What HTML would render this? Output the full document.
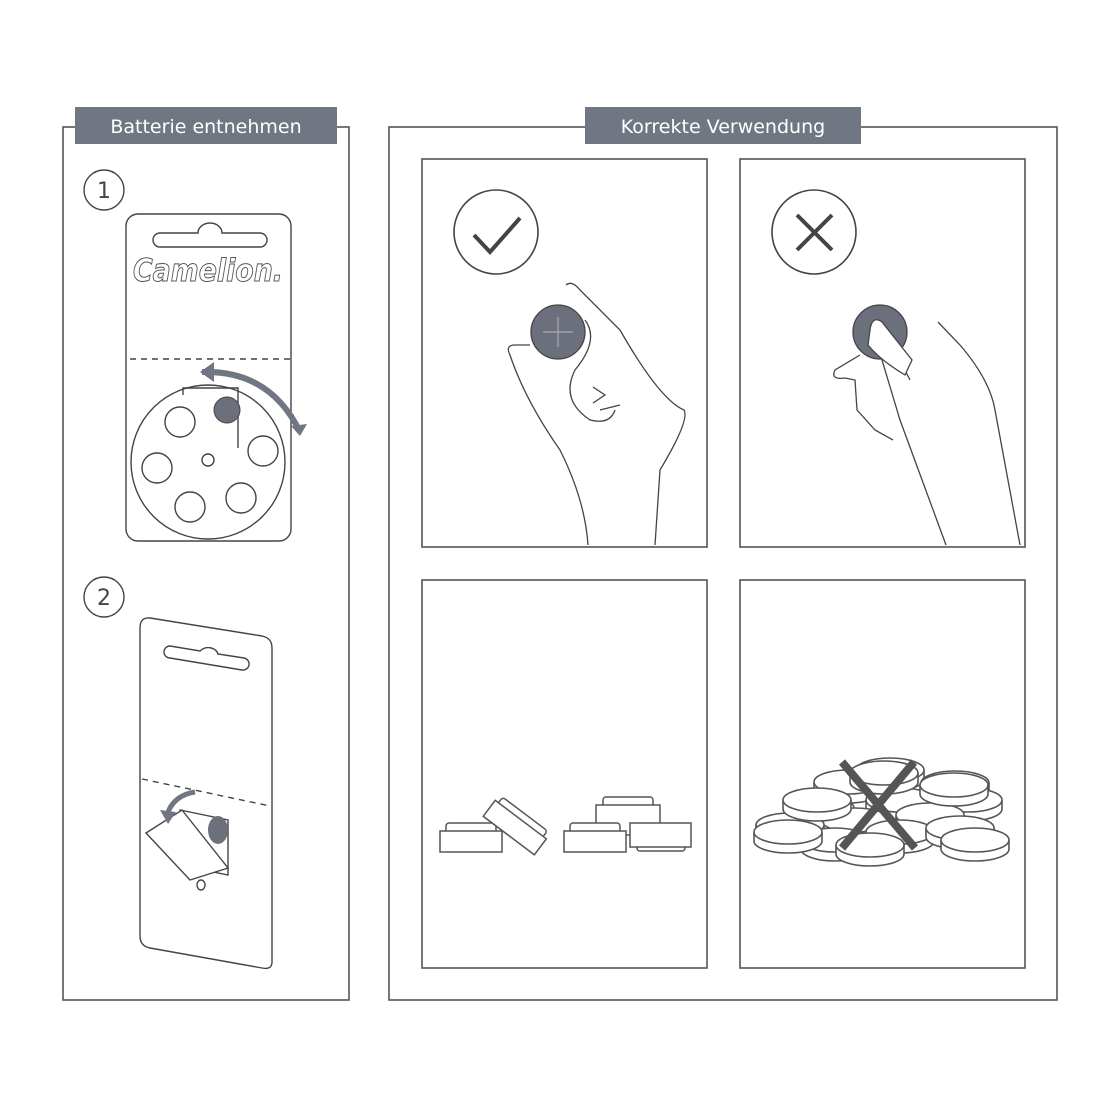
<!DOCTYPE html>
<html><head><meta charset="utf-8"><style>
html,body{margin:0;padding:0;background:#fff}
svg{display:block}
text{font-family:"DejaVu Sans","Liberation Sans",sans-serif}
</style></head><body>
<svg width="1120" height="1120" viewBox="0 0 1120 1120" xmlns="http://www.w3.org/2000/svg">
<defs>
<g id="coin"><path d="M-34 0 v9 a34 12 0 0 0 68 0 v-9" fill="#fff" stroke="#555" stroke-width="1.6"/><ellipse cx="0" cy="0" rx="34" ry="12" fill="#fff" stroke="#555" stroke-width="1.6"/></g>
</defs>
<g fill="none" stroke="#555" stroke-width="1.6">
<rect x="63" y="127" width="286" height="873"/>
<rect x="389" y="127" width="668" height="873"/>
<rect x="422" y="159" width="285" height="388"/>
<rect x="740" y="159" width="285" height="388"/>
<rect x="422" y="580" width="285" height="388"/>
<rect x="740" y="580" width="285" height="388"/>
</g>
<rect x="75" y="107" width="262" height="37" fill="#707783"/>
<text x="206" y="133" font-size="19" fill="#fff" text-anchor="middle">Batterie entnehmen</text>
<rect x="585" y="107" width="276" height="37" fill="#707783"/>
<text x="723" y="133" font-size="19" fill="#fff" text-anchor="middle">Korrekte Verwendung</text>

<!-- step 1 -->
<g fill="none" stroke="#444" stroke-width="1.4">
<circle cx="104" cy="190" r="20"/>
<circle cx="104" cy="597" r="20"/>
<rect x="126" y="214" width="165" height="327" rx="12"/>
<path d="M160 233 h38 a12 10 0 0 1 24 0 h38 a6 6 0 0 1 0 14 h-100 a6 6 0 0 1 0 -14z"/>
<path d="M130 359 h160" stroke-dasharray="6 5"/>
<circle cx="208" cy="462" r="77"/>
<circle cx="180" cy="422" r="15"/><circle cx="263" cy="451" r="15"/><circle cx="157" cy="468" r="15"/><circle cx="190" cy="507" r="15"/><circle cx="241" cy="498" r="15"/>
<circle cx="208" cy="460" r="6"/>
<path d="M183 395 v-7 h55 v60"/>
</g>
<text x="104" y="198" font-size="22" text-anchor="middle" fill="#444">1</text>
<text x="104" y="605" font-size="22" text-anchor="middle" fill="#444">2</text>
<text x="208" y="281" font-size="31" font-style="italic" font-weight="bold" text-anchor="middle" fill="#fff" stroke="#555" stroke-width="1" textLength="150" lengthAdjust="spacingAndGlyphs">Camelion.</text>
<circle cx="227" cy="410" r="13" fill="#6b707c" stroke="#444"/>
<path d="M202 372 Q270 370 300 432" fill="none" stroke="#707783" stroke-width="6"/>
<path d="M200 372 l14 -10 l0 20z M300 436 l-9 -10 l16 -2z" fill="#707783"/>

<!-- step 2 -->
<g fill="#fff" stroke="#444" stroke-width="1.4">
<path d="M150 618 L262 636 Q272 638 272 648 L272 962 Q272 970 262 968 L150 948 Q140 946 140 936 L140 628 Q140 617 150 618z"/>
<path d="M170 646 l30 5 a10 8 0 0 1 18 3 l26 4 a6 6 0 0 1 -2 12 l-72 -12 a6 6 0 0 1 0 -12z" fill="none"/>
<path d="M142 779 L270 806" stroke-dasharray="6 5" fill="none"/>
<path d="M180 810 L228 820 L228 875 L180 865z"/>
<path d="M146 833 L182 810 L228 868 L190 880z"/>
<ellipse cx="201" cy="885" rx="4" ry="5" fill="none"/>
</g>
<ellipse cx="218" cy="830" rx="10" ry="14" fill="#6b707c"/>
<path d="M195 792 Q175 795 168 812" fill="none" stroke="#707783" stroke-width="5"/>
<path d="M160 810 l16 2 l-8 12z" fill="#707783"/>

<!-- check / cross -->
<g fill="none" stroke="#444" stroke-width="1.6">
<circle cx="496" cy="232" r="42"/>
<circle cx="814" cy="232" r="42"/>
</g>
<path d="M474 235 L490 252 L520 218" fill="none" stroke="#444" stroke-width="4"/>
<path d="M797 215 L832 250 M832 215 L797 250" stroke="#444" stroke-width="4"/>

<!-- hands -->
<g fill="none" stroke="#444" stroke-width="1.3">
<path d="M566 285 Q572 280 580 290 L620 330 Q660 400 684 410 Q690 420 660 470 L655 545"/>
<path d="M588 545 Q585 500 560 450 Q525 400 510 355 Q505 345 515 345 L530 345"/>
<path d="M585 320 Q600 340 575 370 Q560 400 590 420 Q610 425 615 410"/>
<path d="M593 387 l12 8 l-12 8 M600 410 l20 -5"/>
<path d="M938 322 L960 345 Q990 380 995 410 L1020 545"/>
<path d="M946 545 Q915 460 900 420 L870 320 Q865 305 878 318 L910 380"/>
<path d="M860 355 L835 370 Q830 380 845 378 L855 380 L857 410 L875 430 L893 440"/>
</g>
<circle cx="558" cy="332" r="27" fill="#6b707c" stroke="#444" stroke-width="1.3"/>
<path d="M558 317 v30 M543 332 h30" stroke="#aaa" stroke-width="1.2"/>
<circle cx="880" cy="332" r="27" fill="#6b707c" stroke="#444" stroke-width="1.3"/>
<path d="M870 330 Q872 315 882 322 Q890 332 912 360 L905 375 Q880 360 868 345z" fill="#fff" stroke="#444" stroke-width="1.3"/>

<!-- batteries correct -->
<g fill="#fff" stroke="#555" stroke-width="1.5">
<rect x="446" y="823" width="50" height="15" rx="3"/>
<rect x="440" y="831" width="62" height="21"/>
<g transform="rotate(37 516 826)"><rect x="488" y="811" width="56" height="15" rx="3"/><rect x="484" y="818" width="64" height="20"/></g>
<rect x="603" y="797" width="50" height="15" rx="3"/>
<rect x="596" y="805" width="64" height="30"/>
<rect x="570" y="823" width="50" height="15" rx="3"/>
<rect x="564" y="831" width="62" height="21"/>
<rect x="637" y="835" width="48" height="16" rx="3"/>
<rect x="630" y="823" width="61" height="24"/>
</g>

<!-- coin pile -->
<g>
<use href="#coin" x="890" y="770"/>
<use href="#coin" x="848" y="782"/>
<use href="#coin" x="955" y="783"/>
<use href="#coin" x="968" y="800"/>
<use href="#coin" x="820" y="808"/>
<use href="#coin" x="900" y="800"/>
<use href="#coin" x="855" y="820"/>
<use href="#coin" x="930" y="815"/>
<use href="#coin" x="790" y="825"/>
<use href="#coin" x="900" y="832"/>
<use href="#coin" x="960" y="828"/>
<use href="#coin" x="835" y="840"/>
<use href="#coin" x="870" y="845"/>
<use href="#coin" x="975" y="840"/>
<use href="#coin" x="788" y="832"/>
<use href="#coin" x="817" y="800"/>
<use href="#coin" x="884" y="773"/>
<use href="#coin" x="954" y="785"/>
</g>
<path d="M842 762 L915 848 M914 762 L842 848" stroke="#555" stroke-width="8"/>
</svg>
</body></html>
